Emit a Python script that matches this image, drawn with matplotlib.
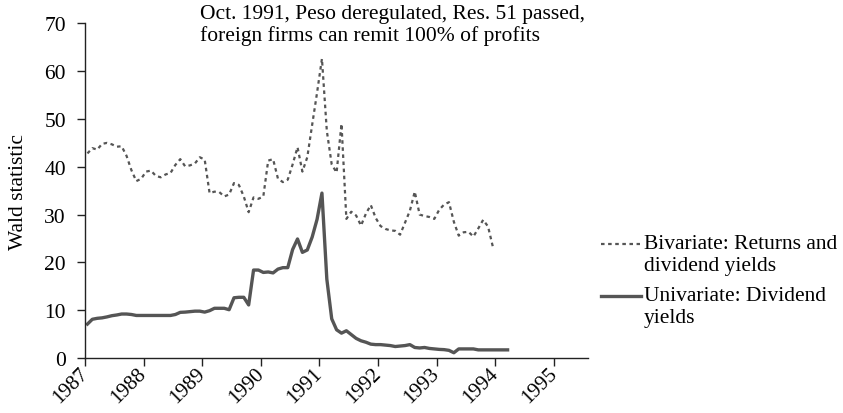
import matplotlib
matplotlib.use("Agg")
import matplotlib.pyplot as plt
from matplotlib.lines import Line2D
import numpy as np

# Monthly observations starting Jan 1987
start_year = 1987
bivariate = [42.8, 43.9, 43.6, 44.8, 45.0, 44.7, 44.2, 44.3, 42.3, 39.3, 37.0, 37.5,
             39.0, 39.2, 38.1, 37.8, 38.4, 38.7, 40.4, 41.6, 40.1, 40.3, 40.7, 42.0,
             41.5, 34.5, 34.8, 34.7, 33.8, 34.2, 36.6, 36.2, 33.8, 30.5, 33.6, 33.3,
             33.8, 41.3, 41.6, 37.5, 36.8, 37.3, 40.5, 44.1, 39.0, 42.0, 48.8, 55.5,
             62.6, 47.5, 40.5, 38.8, 49.0, 29.1, 30.6, 29.8, 27.7, 30.2, 32.0, 29.3,
             27.6, 27.0, 26.7, 26.6, 25.8, 28.3, 30.8, 34.8, 30.0, 29.7, 29.5, 29.1,
             31.0, 32.1, 32.6, 28.5, 25.6, 26.3, 26.4, 25.4, 27.1, 28.9, 27.5, 23.2]
univariate = [7.1, 8.1, 8.3, 8.4, 8.6, 8.85, 9.0, 9.2, 9.2, 9.1, 8.9, 8.9,
              8.9, 8.9, 8.9, 8.9, 8.9, 8.9, 9.1, 9.55, 9.6, 9.7, 9.8, 9.8,
              9.6, 9.9, 10.4, 10.4, 10.4, 10.1, 12.6, 12.7, 12.7, 11.1, 18.4, 18.4,
              17.9, 18.0, 17.8, 18.6, 18.9, 18.9, 22.7, 24.9, 22.1, 22.6, 25.3, 29.0,
              34.5, 16.5, 8.2, 5.9, 5.2, 5.7, 4.9, 4.1, 3.6, 3.3, 2.9, 2.8,
              2.8, 2.7, 2.6, 2.4, 2.5, 2.6, 2.8, 2.2, 2.1, 2.2, 2.0, 1.9,
              1.8, 1.75, 1.6, 1.1, 1.9, 1.9, 1.9, 1.9, 1.7, 1.7, 1.7, 1.7,
              1.7, 1.7, 1.7]
year_ticks = [1987, 1988, 1989, 1990, 1991, 1992, 1993, 1994, 1995]
y_ticks = [0, 10, 20, 30, 40, 50, 60, 70]
label_biv = ["Bivariate: Returns and", "dividend yields"]
label_uni = ["Univariate: Dividend", "yields"]
annotation = ["Oct. 1991, Peso deregulated, Res. 51 passed,",
              "foreign firms can remit 100% of profits"]

plt.rcParams['font.family'] = ['Liberation Serif', 'DejaVu Serif']
FS = 15.5
col = '#555555'

fig = plt.figure(figsize=(8.43, 4.14), dpi=100)
ax = fig.add_axes([85/843, 1-359/414, (588-85)/843, (359-24.4)/414])

t_biv = start_year + (np.arange(len(bivariate)) + 0.5) / 12
t_uni = start_year + (np.arange(len(univariate)) + 0.5) / 12
ax.plot(t_biv, bivariate, color=col, lw=1.6, linestyle=(0, (1.6, 1.6)))
ax.plot(t_uni, univariate, color=col, lw=2.4, solid_joinstyle='round')

ax.set_xlim(1987, 1995.58)
ax.set_ylim(0, 70)
ax.set_xticks(year_ticks)
ax.set_xticklabels([str(y) for y in year_ticks], rotation=45, ha='right', va='center',
                   rotation_mode='anchor', fontsize=15)
ax.set_yticks(y_ticks)
ax.set_yticklabels([str(v) for v in y_ticks], fontsize=FS)
ax.tick_params(axis='both', direction='out', length=5.8, width=1, color='#222222')
ax.tick_params(axis='y', pad=8)
ax.tick_params(axis='x', pad=3)
for s in ['top', 'right']:
    ax.spines[s].set_visible(False)
for s in ['left', 'bottom']:
    ax.spines[s].set_color('#222222')
    ax.spines[s].set_linewidth(1)
ax.set_ylabel("Wald statistic", fontsize=FS, labelpad=12)

def fx(px):
    return px / 843
def fy(py):
    return 1 - py / 414

fig.text(fx(200), fy(14), annotation[0], fontsize=FS, ha='left', va='center')
fig.text(fx(200), fy(36), annotation[1], fontsize=FS, ha='left', va='center')

# legend (drawn in figure coordinates)
fig.add_artist(Line2D([fx(601), fx(640)], [fy(245), fy(245)], color=col, lw=1.6,
                      linestyle=(0, (1.6, 1.6)), transform=fig.transFigure))
fig.add_artist(Line2D([fx(601), fx(641)], [fy(297), fy(297)], color=col, lw=2.4,
                      transform=fig.transFigure))
fig.text(fx(644), fy(245), label_biv[0], fontsize=FS, va='center', ha='left')
fig.text(fx(644), fy(267), label_biv[1], fontsize=FS, va='center', ha='left')
fig.text(fx(644), fy(297), label_uni[0], fontsize=FS, va='center', ha='left')
fig.text(fx(644), fy(319), label_uni[1], fontsize=FS, va='center', ha='left')

fig.savefig("out.png", dpi=100)
